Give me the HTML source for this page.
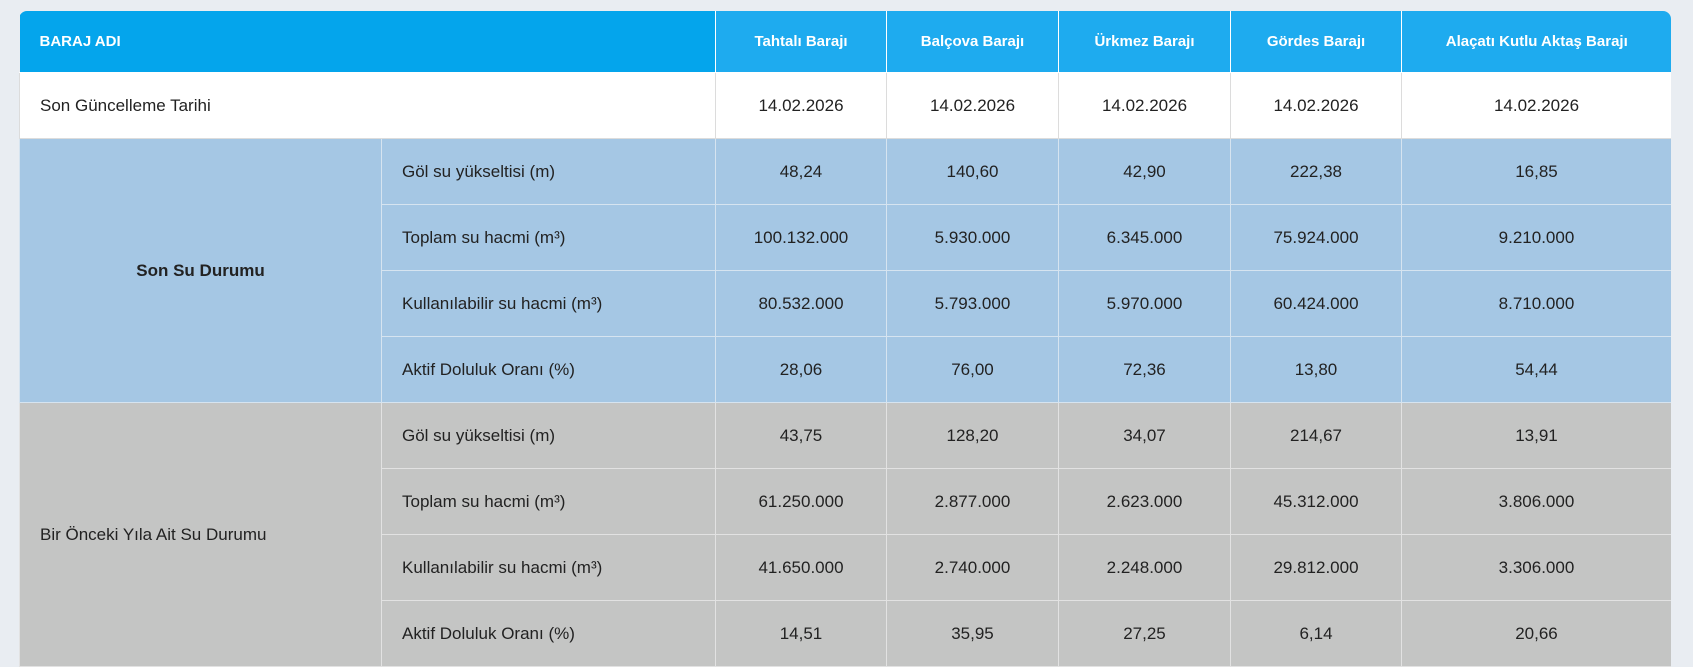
<!DOCTYPE html>
<html><head><meta charset="utf-8"><style>
html,body{margin:0;padding:0;background:#e9edf2;width:1693px;height:667px;overflow:hidden}
.wrap{position:absolute;left:19px;top:11px;width:1652px;border-radius:8px 8px 0 0;overflow:hidden}
table{border-collapse:collapse;table-layout:fixed;width:1652px;font-family:"Liberation Sans",sans-serif;color:#222;font-size:17px}
td,th{border:1px solid #dcdcdc;text-align:center;padding:0;height:65px}
th{height:61px;background:#1eabef;color:#fff;font-size:15px;font-weight:bold;border:1px solid #fff;border-top:none}
th.first{background:#04a5ec;text-align:left;padding-left:20px;border-left:none}
th:last-child{border-right:none}
.w td{background:#fff}
.b td{background:#a5c7e4;border-color:#d6e4f0}
.g td{background:#c4c5c4;border-color:#e2e2e2}
td.l{text-align:left;padding-left:20px}
</style></head><body>
<div class="wrap"><table>
<colgroup><col style="width:362px"><col style="width:334px"><col style="width:171px"><col style="width:172px"><col style="width:172px"><col style="width:171px"><col style="width:270px"></colgroup>
<tr><th class="first" colspan="2">BARAJ ADI</th><th>Tahtalı Barajı</th><th>Balçova Barajı</th><th>Ürkmez Barajı</th><th>Gördes Barajı</th><th>Alaçatı Kutlu Aktaş Barajı</th></tr>
<tr class="w"><td class="l" colspan="2">Son Güncelleme Tarihi</td><td>14.02.2026</td><td>14.02.2026</td><td>14.02.2026</td><td>14.02.2026</td><td>14.02.2026</td></tr>
<tr class="b"><td rowspan="4" style="font-weight:bold">Son Su Durumu</td><td class="l">Göl su yükseltisi (m)</td><td>48,24</td><td>140,60</td><td>42,90</td><td>222,38</td><td>16,85</td></tr>
<tr class="b"><td class="l">Toplam su hacmi (m³)</td><td>100.132.000</td><td>5.930.000</td><td>6.345.000</td><td>75.924.000</td><td>9.210.000</td></tr>
<tr class="b"><td class="l">Kullanılabilir su hacmi (m³)</td><td>80.532.000</td><td>5.793.000</td><td>5.970.000</td><td>60.424.000</td><td>8.710.000</td></tr>
<tr class="b"><td class="l">Aktif Doluluk Oranı (%)</td><td>28,06</td><td>76,00</td><td>72,36</td><td>13,80</td><td>54,44</td></tr>
<tr class="g"><td rowspan="4" class="l">Bir Önceki Yıla Ait Su Durumu</td><td class="l">Göl su yükseltisi (m)</td><td>43,75</td><td>128,20</td><td>34,07</td><td>214,67</td><td>13,91</td></tr>
<tr class="g"><td class="l">Toplam su hacmi (m³)</td><td>61.250.000</td><td>2.877.000</td><td>2.623.000</td><td>45.312.000</td><td>3.806.000</td></tr>
<tr class="g"><td class="l">Kullanılabilir su hacmi (m³)</td><td>41.650.000</td><td>2.740.000</td><td>2.248.000</td><td>29.812.000</td><td>3.306.000</td></tr>
<tr class="g"><td class="l">Aktif Doluluk Oranı (%)</td><td>14,51</td><td>35,95</td><td>27,25</td><td>6,14</td><td>20,66</td></tr>
</table></div>
</body></html>
